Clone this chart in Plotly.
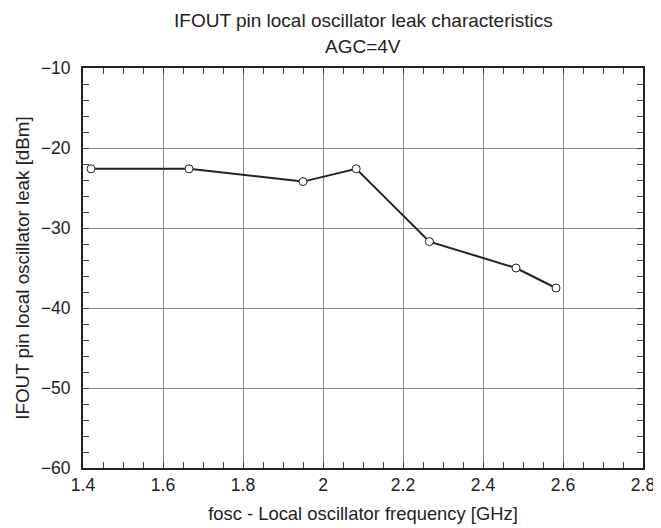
import plotly.graph_objects as go

freq_ghz = [1.42, 1.665, 1.95, 2.083, 2.266, 2.4825, 2.5825]
leak_dbm = [-22.6, -22.6, -24.2, -22.6, -31.7, -35.0, -37.5]

x_ticks = [1.4, 1.6, 1.8, 2.0, 2.2, 2.4, 2.6, 2.8]
x_tick_labels = ["1.4", "1.6", "1.8", "2", "2.2", "2.4", "2.6", "2.8"]
y_ticks = [-60, -50, -40, -30, -20, -10]

title_lines = ["IFOUT pin local oscillator leak characteristics", "AGC=4V"]
x_title = "fosc - Local oscillator frequency [GHz]"
y_title = "IFOUT pin local oscillator leak [dBm]"

fig = go.Figure()
fig.add_trace(go.Scatter(
    x=freq_ghz, y=leak_dbm, mode="lines+markers",
    line=dict(color="#222222", width=2),
    marker=dict(size=8, color="white", line=dict(color="#222222", width=1)),
    showlegend=False, cliponaxis=False,
))

font_family = "Liberation Sans, Arial, Helvetica, sans-serif"

fig.update_layout(
    width=653, height=520,
    margin=dict(l=75, r=18, t=60, b=60, autoexpand=False),
    paper_bgcolor="white", plot_bgcolor="white",
    font=dict(family=font_family, size=18, color="#222222"),
)
for line_text, ypos in zip(title_lines, [1.11875, 1.055]):
    fig.add_annotation(text=line_text, xref="paper", yref="paper", x=0.5, y=ypos,
                       xanchor="center", yanchor="middle", showarrow=False,
                       font=dict(size=19, color="#222222"))

fig.update_xaxes(
    range=[1.4, 2.8], tickvals=x_ticks, ticktext=x_tick_labels,
    showline=True, linecolor="#222222", linewidth=2, mirror="allticks",
    ticks="inside", ticklen=6, tickcolor="#444444", tickwidth=1,
    showgrid=True, gridcolor="#8a8a8a", gridwidth=1,
    minor=dict(dtick=0.05, tick0=1.4, ticks="inside", ticklen=6, tickcolor="#444444", showgrid=False),
    zeroline=False, tickfont=dict(size=17.5), automargin=False,
    title=dict(text=x_title, font=dict(size=18.4), standoff=13),
)
fig.update_yaxes(
    range=[-60, -10], tickvals=y_ticks,
    showline=True, linecolor="#222222", linewidth=2, mirror="allticks",
    ticks="inside", ticklen=6, tickcolor="#444444", tickwidth=1,
    showgrid=True, gridcolor="#8a8a8a", gridwidth=1,
    minor=dict(dtick=2, tick0=-60, ticks="inside", ticklen=6, tickcolor="#444444", showgrid=False),
    zeroline=False, tickfont=dict(size=17.5), ticklabelstandoff=7, automargin=False,
    title=dict(text=y_title, font=dict(size=18.8), standoff=6),
)

fig.write_html("out.html")
